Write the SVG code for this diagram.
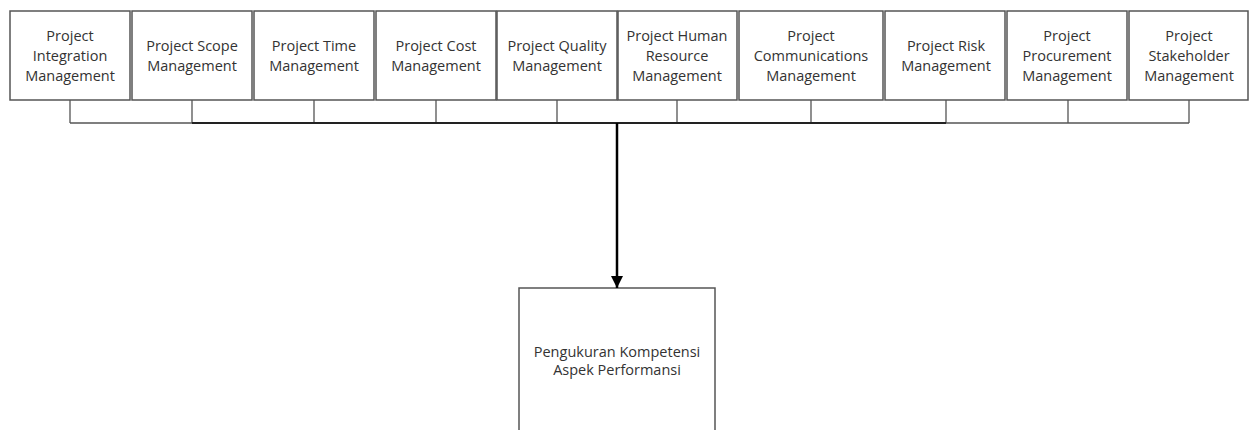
<svg xmlns="http://www.w3.org/2000/svg" width="1250" height="430" viewBox="0 0 1250 430">
<style>
.box{fill:#fff;stroke:#555;stroke-width:1.5}
.t{font-family:"Open Sans","Noto Sans",sans-serif;font-size:14.5px;fill:#333;text-anchor:middle}
.stub{stroke:#555;stroke-width:1.3;fill:none}
.bus{stroke:#222;stroke-width:2.2;fill:none}
.main{stroke:#000;stroke-width:2.5;fill:none}
</style>
<defs>
<marker id="ah" markerUnits="userSpaceOnUse" markerWidth="14" markerHeight="14" refX="12" refY="6" orient="auto">
<path d="M0,0 L12,6 L0,12 Z" fill="#000"/>
</marker>
</defs>
<rect width="1250" height="430" fill="#fff"/>
<g id="n1"><rect class="box" x="10" y="11" width="120" height="89"/><text class="t" x="70" y="41">Project</text><text class="t" x="70" y="61">Integration</text><text class="t" x="70" y="80.5">Management</text></g>
<g id="n2"><rect class="box" x="132" y="11" width="120" height="89"/><text class="t" x="192" y="51">Project Scope</text><text class="t" x="192" y="71">Management</text></g>
<g id="n3"><rect class="box" x="254" y="11" width="120" height="89"/><text class="t" x="314" y="51">Project Time</text><text class="t" x="314" y="71">Management</text></g>
<g id="n4"><rect class="box" x="376" y="11" width="120" height="89"/><text class="t" x="436" y="51">Project Cost</text><text class="t" x="436" y="71">Management</text></g>
<g id="n5"><rect class="box" x="497" y="11" width="120" height="89"/><text class="t" x="557" y="51">Project Quality</text><text class="t" x="557" y="71">Management</text></g>
<g id="n6"><rect class="box" x="618" y="11" width="119" height="89"/><text class="t" x="677" y="41">Project Human</text><text class="t" x="677" y="61">Resource</text><text class="t" x="677" y="80.5">Management</text></g>
<g id="n7"><rect class="box" x="739" y="11" width="144" height="89"/><text class="t" x="811" y="41">Project</text><text class="t" x="811" y="61">Communications</text><text class="t" x="811" y="80.5">Management</text></g>
<g id="n8"><rect class="box" x="885" y="11" width="120" height="89"/><text class="t" x="946" y="51">Project Risk</text><text class="t" x="946" y="71">Management</text></g>
<g id="n9"><rect class="box" x="1007" y="11" width="120" height="89"/><text class="t" x="1067" y="41">Project</text><text class="t" x="1067" y="61">Procurement</text><text class="t" x="1067" y="80.5">Management</text></g>
<g id="n10"><rect class="box" x="1129" y="11" width="119" height="89"/><text class="t" x="1189" y="41">Project</text><text class="t" x="1189" y="61">Stakeholder</text><text class="t" x="1189" y="80.5">Management</text></g>
<g id="n11"><rect class="box" x="519" y="288" width="196" height="160"/><text class="t" x="617" y="357">Pengukuran Kompetensi</text><text class="t" x="617" y="375">Aspek Performansi</text></g>
<g id="connectors">
<path class="stub" d="M70,100V123M192,100V123M314,100V123M436,100V123M557,100V123M677,100V123M811,100V123M946,100V123M1068,100V123M1189,100V123"/>
<path class="stub" d="M70,123H1189"/>
<path class="bus" d="M192,123H946"/>
<path class="main" d="M617,123V288" marker-end="url(#ah)"/>
</g>
</svg>
